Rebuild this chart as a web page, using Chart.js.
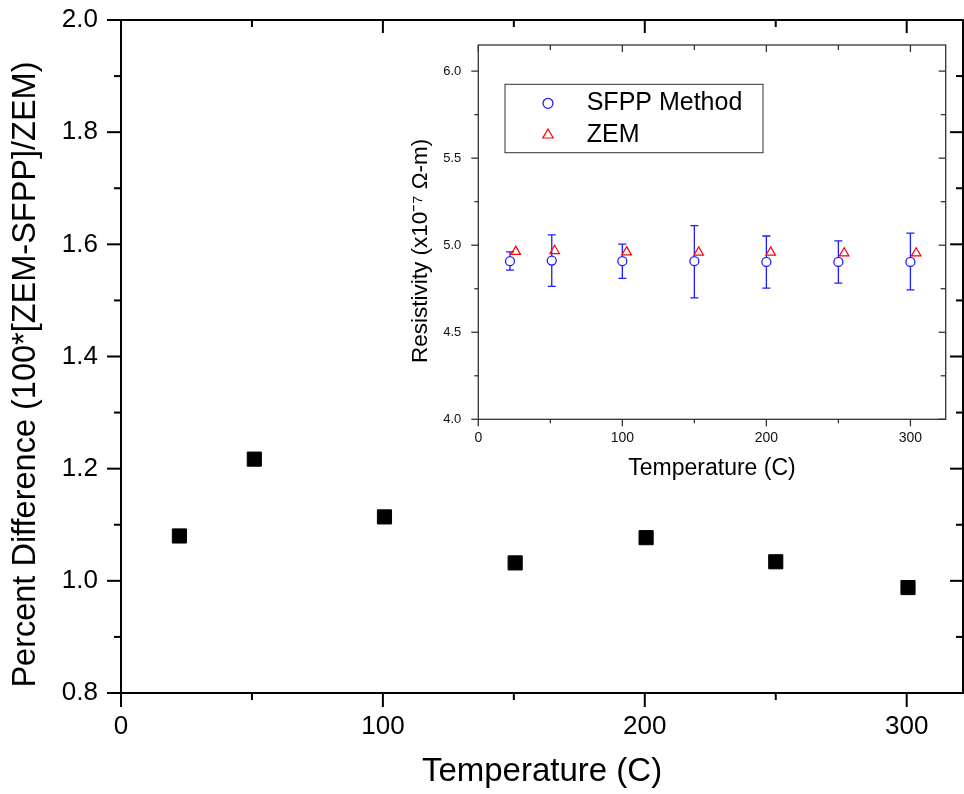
<!DOCTYPE html>
<html lang="en">
<head>
<meta charset="UTF-8">
<title>Percent Difference and Resistivity vs Temperature</title>
<script src="https://cdn.jsdelivr.net/npm/chart.js"></script>
<style>
  html, body { margin: 0; padding: 0; background: #fff; }
  #wrap { position: relative; width: 964px; height: 794px; }
  #mainChart { position: absolute; left: 0; top: 0; }
  #insetChart { position: absolute; left: 400px; top: 30px; }
</style>
</head>
<body>
<div id="wrap">
  <canvas id="mainChart" width="964" height="794"></canvas>
  <canvas id="insetChart" width="560" height="470"></canvas>
</div>
<script>
// main plot: percent difference
const mainTemps = [22.3, 50.9, 100.6, 150.5, 200.5, 250, 300.5];
const percentDiff = [1.080, 1.217, 1.114, 1.032, 1.077, 1.034, 0.988];

// inset: resistivity (x1e-7 ohm-m)
const sfppTemps = [22, 51, 100, 150, 200, 250, 300];
const sfppRes   = [4.908, 4.912, 4.908, 4.908, 4.904, 4.904, 4.904];
const sfppUpper = [4.962, 5.059, 5.006, 5.113, 5.053, 5.025, 5.069];
const sfppLower = [4.857, 4.763, 4.809, 4.698, 4.753, 4.782, 4.743];
const zemTemps  = [26, 53, 103, 153, 203, 254, 304];
const zemRes    = [4.963, 4.968, 4.960, 4.959, 4.959, 4.954, 4.954];

const FONT = "'Liberation Sans', Arial, sans-serif";
Chart.defaults.font.family = FONT;
Chart.defaults.color = '#000';

const pts = (xs, ys) => xs.map((x, i) => ({x: x, y: ys[i]}));

// no extra room for overflowing tick labels, the layout padding decides
const noPad = s => { s.paddingTop = 0; s.paddingBottom = 0; s.paddingLeft = 0; s.paddingRight = 0; };

// frame box with major/minor ticks (out on bottom/left, in on top/right)
const axisFrame = {
  id: 'axisFrame',
  afterDatasetsDraw(chart, args, o) {
    const {ctx, chartArea: a, scales: {x, y}} = chart;
    ctx.save();
    ctx.strokeStyle = o.color;
    ctx.lineWidth = o.lineWidth;
    ctx.strokeRect(a.left, a.top, a.right - a.left, a.bottom - a.top);
    const line = (x1, y1, x2, y2) => { ctx.beginPath(); ctx.moveTo(x1, y1); ctx.lineTo(x2, y2); ctx.stroke(); };
    for (let i = 0; ; i++) {
      const v = x.min + i * o.xMinor;
      if (v > x.max + 1e-9) break;
      const major = i % 2 === 0;
      const px = x.getPixelForValue(v);
      line(px, a.bottom, px, a.bottom + (major ? o.outMajor : o.outMinor));
      line(px, a.top, px, a.top + (major ? o.inMajor : o.inMinor));
    }
    for (let i = 0; ; i++) {
      const v = y.min + i * o.yMinor;
      if (v > y.max + 1e-9) break;
      const major = i % 2 === 0;
      const py = y.getPixelForValue(v);
      line(a.left, py, a.left - (major ? o.outMajor : o.outMinor), py);
      line(a.right, py, a.right - (major ? o.inMajor : o.inMinor), py);
    }
    ctx.restore();
  }
};

const errorBars = {
  id: 'errorBars',
  beforeDatasetsDraw(chart, args, o) {
    const {ctx, scales: {x, y}} = chart;
    chart.data.datasets.forEach(ds => {
      if (!ds.errUpper) return;
      ctx.save();
      ctx.strokeStyle = ds.borderColor;
      ctx.lineWidth = 1.3;
      ds.data.forEach((p, i) => {
        const px = x.getPixelForValue(p.x);
        const t = y.getPixelForValue(ds.errUpper[i]);
        const b = y.getPixelForValue(ds.errLower[i]);
        ctx.beginPath();
        ctx.moveTo(px, t); ctx.lineTo(px, b);
        ctx.moveTo(px - o.cap, t); ctx.lineTo(px + o.cap, t);
        ctx.moveTo(px - o.cap, b); ctx.lineTo(px + o.cap, b);
        ctx.stroke();
      });
      ctx.restore();
    });
  }
};

// boxed legend inside the inset
const boxLegend = {
  id: 'boxLegend',
  afterDraw(chart, args, o) {
    const {ctx, chartArea: a} = chart;
    const bx = a.left + o.left, by = a.top + o.top;
    ctx.save();
    ctx.strokeStyle = '#333';
    ctx.lineWidth = 1;
    ctx.strokeRect(bx, by, o.width, o.height);
    ctx.font = o.fontSize + 'px ' + FONT;
    ctx.textBaseline = 'middle';
    ctx.fillStyle = '#000';
    chart.data.datasets.forEach((ds, i) => {
      const ry = by + o.rows[i];
      ctx.save();
      ctx.strokeStyle = ds.borderColor;
      ctx.fillStyle = '#fff';
      ctx.lineWidth = ds.borderWidth;
      Chart.helpers.drawPoint(ctx, {pointStyle: ds.pointStyle, radius: ds.pointRadius + 0.5, borderWidth: ds.borderWidth, rotation: 0}, bx + o.symX, ry);
      ctx.restore();
      ctx.fillText(ds.label, bx + o.textX, ry);
    });
    ctx.restore();
  }
};

new Chart(document.getElementById('mainChart'), {
  type: 'scatter',
  data: {
    datasets: [{
      label: 'Percent Difference',
      data: pts(mainTemps, percentDiff),
      pointStyle: 'rect',
      pointRadius: 10,
      backgroundColor: '#000',
      borderColor: '#000',
      borderWidth: 1
    }]
  },
  options: {
    responsive: false,
    animation: false,
    layout: { autoPadding: false, padding: { top: 20, right: 1, left: 0, bottom: 0 } },
    plugins: {
      legend: { display: false },
      tooltip: { enabled: false },
      axisFrame: { color: '#000', lineWidth: 2, xMinor: 50, yMinor: 0.1, outMajor: 14, outMinor: 7, inMajor: 13, inMinor: 7 }
    },
    scales: {
      x: {
        type: 'linear', min: 0, max: 321.5,
        grid: { display: false, drawTicks: false },
        border: { display: false },
        ticks: { stepSize: 100, includeBounds: false, padding: 18, maxRotation: 0, font: { size: 26 }, color: '#000' },
        title: { display: true, text: 'Temperature (C)', font: { size: 33 }, color: '#000', padding: { top: 0, bottom: 2 } },
        afterFit(s) { s.height = 101; noPad(s); }
      },
      y: {
        type: 'linear', min: 0.8, max: 2.0,
        grid: { display: false, drawTicks: false },
        border: { display: false },
        ticks: { stepSize: 0.2, padding: 23, font: { size: 26 }, color: '#000', callback: v => v.toFixed(1) },
        title: { display: true, text: 'Percent Difference (100*[ZEM-SFPP]/ZEM)    ', font: { size: 32.5 }, color: '#000', padding: { top: 7, bottom: 0 } },
        afterFit(s) { s.width = 121; noPad(s); }
      }
    }
  },
  plugins: [axisFrame]
});

new Chart(document.getElementById('insetChart'), {
  type: 'scatter',
  data: {
    datasets: [{
      label: 'SFPP Method',
      data: pts(sfppTemps, sfppRes),
      errUpper: sfppUpper,
      errLower: sfppLower,
      pointStyle: 'circle',
      pointRadius: 4.5,
      borderWidth: 1.3,
      borderColor: 'rgb(30,30,255)',
      backgroundColor: '#fff'
    }, {
      label: 'ZEM',
      data: pts(zemTemps, zemRes),
      pointStyle: 'triangle',
      pointRadius: 5.5,
      borderWidth: 1.2,
      borderColor: 'rgb(255,0,0)',
      backgroundColor: 'rgba(255,255,255,0)'
    }]
  },
  options: {
    responsive: false,
    animation: false,
    layout: { autoPadding: false, padding: { top: 15, right: 14.3, left: 0, bottom: 0 } },
    plugins: {
      legend: { display: false },
      tooltip: { enabled: false },
      errorBars: { cap: 4 },
      axisFrame: { color: '#333', lineWidth: 1.3, xMinor: 50, yMinor: 0.25, outMajor: 7, outMinor: 4, inMajor: 7, inMinor: 5 },
      boxLegend: { left: 26.7, top: 39.3, width: 258, height: 68.4, rows: [19, 50.7], symX: 43, textX: 81.7, fontSize: 25 }
    },
    scales: {
      x: {
        type: 'linear', min: 0, max: 324.5,
        grid: { display: false, drawTicks: false },
        border: { display: false },
        ticks: { stepSize: 100, includeBounds: false, padding: 10.3, maxRotation: 0, font: { size: 14 }, color: '#111' },
        title: { display: true, text: 'Temperature (C)', font: { size: 23 }, color: '#000', padding: { top: 0, bottom: 18 } },
        afterFit(s) { s.height = 80.7; noPad(s); }
      },
      y: {
        type: 'linear', min: 4.0, max: 6.15,
        grid: { display: false, drawTicks: false },
        border: { display: false },
        ticks: { stepSize: 0.5, includeBounds: false, padding: 17, font: { size: 13 }, color: '#111', callback: v => v.toFixed(1) },
        title: { display: true, text: 'Resistivity (x10⁻⁷ Ω-m)      ', font: { size: 22.5 }, color: '#000', padding: { top: 7.6, bottom: 0 } },
        afterFit(s) { s.width = 78.3; noPad(s); }
      }
    }
  },
  plugins: [errorBars, axisFrame, boxLegend]
});
</script>
</body>
</html>
